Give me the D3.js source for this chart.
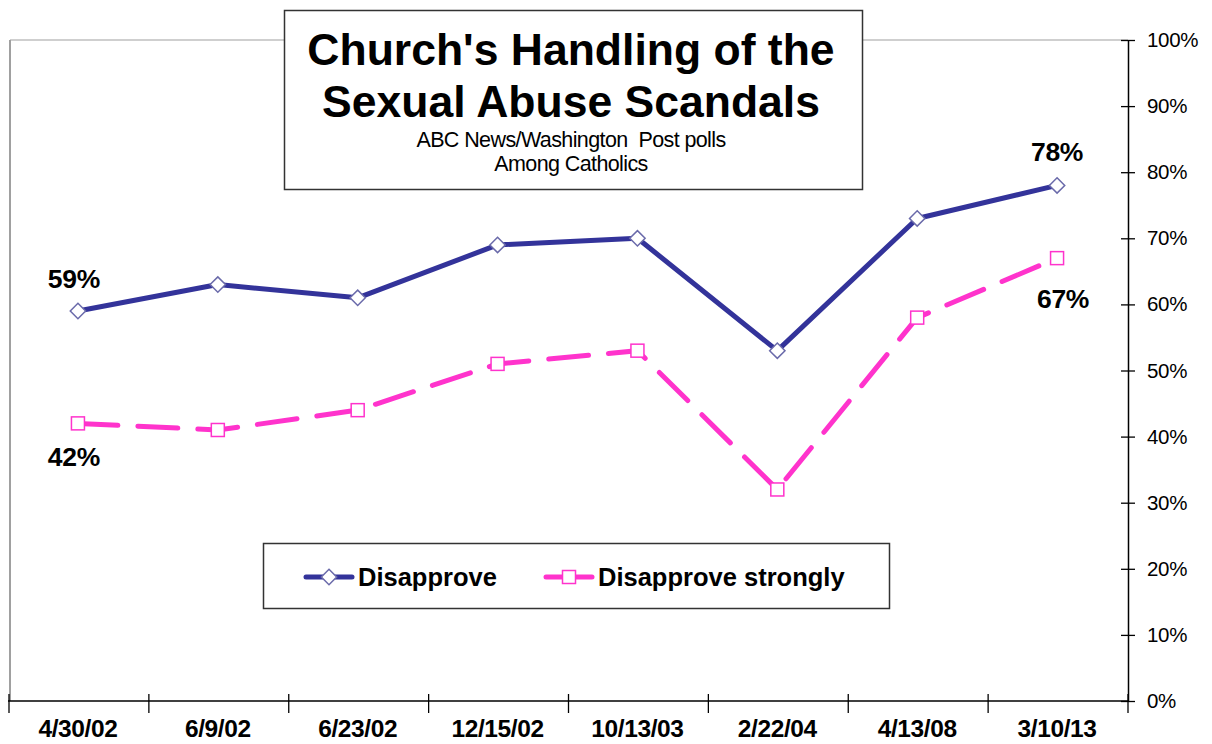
<!DOCTYPE html>
<html><head><meta charset="utf-8">
<script src="https://cdn.jsdelivr.net/npm/d3@7"></script>
<style>body{margin:0;background:#fff}svg{display:block}text{font-family:"Liberation Sans",Arial,sans-serif}</style>
</head><body><svg id="c" width="1212" height="744"></svg>
<script>
const categories = ["4/30/02","6/9/02","6/23/02","12/15/02","10/13/03","2/22/04","4/13/08","3/10/13"];
const disapprove = [59,63,61,69,70,53,73,78];
const disapproveStrongly = [42,41,44,51,53,32,58,67];
const yTicks = [0,10,20,30,40,50,60,70,80,90,100];
const seriesNames = ["Disapprove","Disapprove strongly"];

const svg = d3.select("#c");
const L = 9, R = 1128, T = 40, B = 701;
const x = d3.scaleBand().domain(categories).range([L, R]);
const y = d3.scaleLinear().domain([0,100]).range([B, T]);
const cx = d => x(d) + x.bandwidth()/2 - 1;

// plot frame (grey top & left)
svg.append("line").attr("x1",L+1).attr("x2",R).attr("y1",T).attr("y2",T).attr("stroke","#a0a0a0").attr("stroke-width",1.2);
svg.append("line").attr("x1",L+1).attr("x2",L+1).attr("y1",T).attr("y2",B).attr("stroke","#a0a0a0").attr("stroke-width",2);

// right axis
const yAxis = d3.axisRight(y).tickValues(yTicks).tickFormat(d => d + "%").tickSize(0).tickPadding(19);
const ga = svg.append("g").attr("transform",`translate(${R},0)`).call(yAxis);
ga.select(".domain").attr("stroke","#000").attr("stroke-width",1.5);
ga.selectAll(".tick text").attr("font-size",20.5).attr("fill","#000").attr("letter-spacing",-0.3).attr("font-family","Liberation Sans, Arial, sans-serif");
ga.selectAll(".tick").append("line").attr("x1",-7).attr("x2",7).attr("stroke","#000").attr("stroke-width",1.3);

// bottom axis
svg.append("line").attr("x1",L-1).attr("x2",R).attr("y1",B).attr("y2",B).attr("stroke","#000").attr("stroke-width",1.5);
const bounds = categories.map(c => x(c)).concat([R]);
svg.selectAll(".xt").data(bounds).enter().append("line")
  .attr("x1",d=>d).attr("x2",d=>d).attr("y1",B-7).attr("y2",B+12).attr("stroke","#000").attr("stroke-width",1.3);
svg.selectAll(".xl").data(categories).enter().append("text")
  .attr("x",d=>cx(d)).attr("y",737).attr("text-anchor","middle")
  .attr("font-size",24.5).attr("font-weight","bold").attr("letter-spacing",-0.4).text(d=>d);

// lines
const line = vals => d3.line().x((d,i)=>cx(categories[i])).y(d=>y(d))(vals);
const blue = "#33339a", pink = "#ff33cc";
svg.append("path").attr("d",line(disapprove)).attr("fill","none").attr("stroke",blue).attr("stroke-width",5).attr("stroke-linejoin","round");
svg.append("path").attr("d",line(disapproveStrongly)).attr("fill","none").attr("stroke",pink).attr("stroke-width",5)
  .attr("stroke-dasharray","40,20").attr("stroke-linecap","round");

const diamond = d3.symbol().type(d3.symbolDiamond2).size(150);
svg.selectAll(".dm").data(disapprove).enter().append("path")
  .attr("d",diamond).attr("transform",(d,i)=>`translate(${cx(categories[i])},${y(d)})`)
  .attr("fill","#fff").attr("stroke","#6a6aaa").attr("stroke-width",1.5);
svg.selectAll(".sq").data(disapproveStrongly).enter().append("rect")
  .attr("x",(d,i)=>cx(categories[i])-6.5).attr("y",d=>y(d)-6.5).attr("width",13).attr("height",13)
  .attr("fill","#fff").attr("stroke",pink).attr("stroke-width",1.5);

// data labels
const lab = (t, xx, yy) => svg.append("text").attr("x",xx).attr("y",yy).attr("text-anchor","middle")
  .attr("font-size",26.5).attr("font-weight","bold").attr("letter-spacing",-0.3).text(t);
lab(disapprove[0]+"%", cx(categories[0]) - 4, y(disapprove[0]) - 23);
lab(disapproveStrongly[0]+"%", cx(categories[0]) - 4, y(disapproveStrongly[0]) + 43);
lab(disapprove[7]+"%", cx(categories[7]), y(disapprove[7]) - 24);
lab(disapproveStrongly[7]+"%", cx(categories[7]) + 6, y(disapproveStrongly[7]) + 50);

// title box
svg.append("rect").attr("x",284.5).attr("y",10.5).attr("width",578).attr("height",179).attr("fill","#fff").attr("stroke","#333").attr("stroke-width",1.5);
const tx = 571;
svg.append("text").attr("x",tx).attr("y",65).attr("text-anchor","middle").attr("font-size",44.5).attr("font-weight","bold").text("Church's Handling of the");
svg.append("text").attr("x",tx).attr("y",117).attr("text-anchor","middle").attr("font-size",44.5).attr("font-weight","bold").text("Sexual Abuse Scandals");
svg.append("text").attr("x",tx).attr("y",147).attr("text-anchor","middle").attr("font-size",21.5).attr("letter-spacing",-0.6).style("white-space","pre").text("ABC News/Washington  Post polls");
svg.append("text").attr("x",tx).attr("y",171).attr("text-anchor","middle").attr("font-size",21.5).attr("letter-spacing",-0.6).text("Among Catholics");

// legend
svg.append("rect").attr("x",263.5).attr("y",543.5).attr("width",626).attr("height",65).attr("fill","#fff").attr("stroke","#333").attr("stroke-width",1.5);
const ly = 577;
const leg = [{n:seriesNames[0], x1:306, c:blue, t:"d"},{n:seriesNames[1], x1:546, c:pink, t:"s"}];
leg.forEach(g => {
  svg.append("line").attr("x1",g.x1).attr("x2",g.x1+46).attr("y1",ly).attr("y2",ly).attr("stroke",g.c).attr("stroke-width",5).attr("stroke-linecap","round");
  if (g.t==="d") svg.append("path").attr("d",diamond).attr("transform",`translate(${g.x1+23},${ly})`).attr("fill","#fff").attr("stroke","#6a6aaa").attr("stroke-width",1.5);
  else svg.append("rect").attr("x",g.x1+23-6.5).attr("y",ly-6.5).attr("width",13).attr("height",13).attr("fill","#fff").attr("stroke",pink).attr("stroke-width",1.5);
  svg.append("text").attr("x",g.x1+52).attr("y",ly+9).attr("font-size",25.5).attr("font-weight","bold").text(g.n);
});
</script></body></html>
